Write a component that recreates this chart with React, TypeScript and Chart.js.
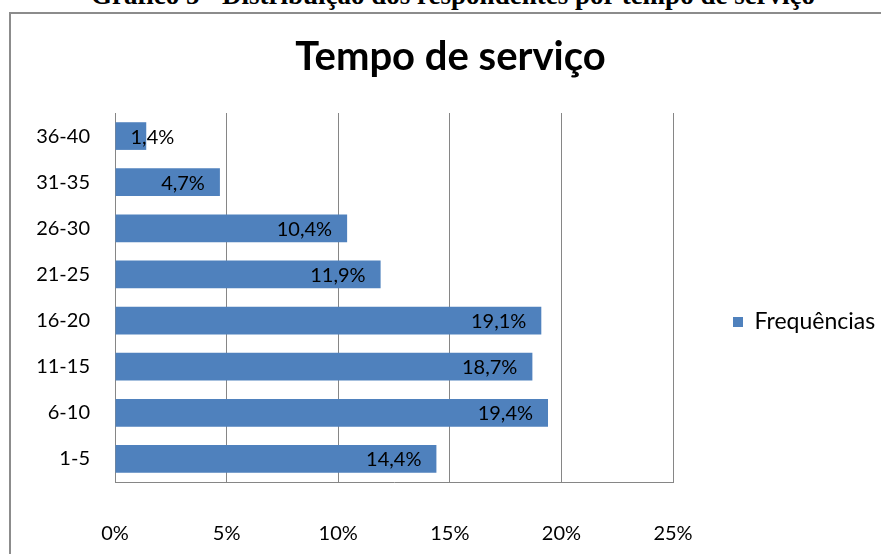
import React, { useEffect, useRef } from "react";
import { Chart, registerables } from "chart.js";

Chart.register(...registerables);

const CAPTION = "Gráfico 5 - Distribuição dos respondentes por tempo de serviço";
const TITLE = "Tempo de serviço";
const SERIES_NAME = "Frequências";
const CATEGORIES = ["36-40", "31-35", "26-30", "21-25", "16-20", "11-15", "6-10", "1-5"];
const VALUES = [1.4, 4.7, 10.4, 11.9, 19.1, 18.7, 19.4, 14.4];
const X_MIN = 0;
const X_MAX = 25;
const X_STEP = 5;

const FONT = "Lato, 'Open Sans', sans-serif";
const BAR_COLOR = "#4F81BD";
const GRID_COLOR = "#868686";

const fmt = (v: number) => v.toFixed(1).replace(".", ",") + "%";

export default function App() {
  const ref = useRef<HTMLCanvasElement | null>(null);

  useEffect(() => {
    const canvas = ref.current;
    if (!canvas) return;

    const labelPlugin = {
      id: "barLabels",
      afterDatasetsDraw(chart: any) {
        const ctx = chart.ctx;
        const meta = chart.getDatasetMeta(0);
        ctx.save();
        ctx.font = `20px ${FONT}`;
        ctx.fillStyle = "#000";
        ctx.textBaseline = "middle";
        ctx.textAlign = "left";
        meta.data.forEach((bar: any, i: number) => {
          const text = fmt(VALUES[i]);
          const tw = ctx.measureText(text).width;
          const { x, base, y } = bar.getProps(["x", "base", "y"], true);
          const right = Math.max(x - 15, base + 15 + tw);
          ctx.fillText(text, right - tw, y + 1);
        });
        ctx.restore();
      },
    };

    const legendPlugin = {
      id: "legendTweak",
      beforeLayout(chart: any) {
        const lg = chart.legend;
        if (lg && !lg.__patched) {
          const orig = lg.fit;
          lg.fit = function (this: any) {
            orig.call(this);
            this.width = 881 - 4 - 673;
          };
          lg.__patched = true;
        }
      },
      afterLayout(chart: any) {
        const lg = chart.legend;
        if (lg) {
          lg.top += 45;
          lg.bottom += 45;
        }
      },
    };

    const chart = new Chart(canvas, {
      type: "bar",
      data: {
        labels: CATEGORIES,
        datasets: [
          {
            label: SERIES_NAME,
            data: VALUES,
            backgroundColor: BAR_COLOR,
            borderWidth: 0,
            categoryPercentage: 1,
            barPercentage: 0.6,
          },
        ],
      },
      options: {
        indexAxis: "y",
        responsive: false,
        animation: false,
        layout: { padding: { left: 24, right: 4, top: 0, bottom: 0 } },
        plugins: {
          tooltip: { enabled: false },
          title: {
            display: true,
            text: TITLE,
            color: "#000",
            font: { family: FONT, size: 40, weight: "bold", lineHeight: 1.2 },
            padding: { top: 33.2, bottom: 31.8 },
          },
          legend: {
            display: true,
            position: "right",
            align: "center",
            labels: {
              boxWidth: 10,
              boxHeight: 10,
              padding: 60,
              color: "#000",
              font: { family: FONT, size: 23 },
            },
          },
        },
        scales: {
          x: {
            type: "linear",
            position: "bottom",
            min: X_MIN,
            max: X_MAX,
            ticks: {
              stepSize: X_STEP,
              padding: 40,
              color: "#000",
              font: { family: FONT, size: 20 },
              callback: (v: any) => `${v}%`,
            },
            grid: { color: GRID_COLOR, lineWidth: 1, drawTicks: false },
            border: { display: true, color: GRID_COLOR, width: 1 },
            afterFit: (scale: any) => {
              scale.height = 72;
            },
          },
          y: {
            type: "category",
            ticks: {
              padding: 25,
              color: "#000",
              font: { family: FONT, size: 20 },
            },
            grid: { display: false, drawTicks: false },
            border: { display: true, color: GRID_COLOR, width: 1 },
            afterFit: (scale: any) => {
              scale.width = 91;
            },
          },
        },
      },
      plugins: [labelPlugin, legendPlugin],
    });

    return () => chart.destroy();
  }, []);

  return (
    <div
      style={{
        position: "fixed",
        left: 0,
        top: 0,
        width: 881,
        height: 554,
        overflow: "hidden",
        background: "#fff",
      }}
    >
      <div
        style={{
          position: "absolute",
          left: 0,
          top: -18,
          width: 906,
          textAlign: "center",
          fontFamily: "'Liberation Serif', 'Times New Roman', serif",
          fontWeight: "bold",
          fontSize: 27,
          lineHeight: 1,
          whiteSpace: "nowrap",
          color: "#000",
        }}
      >
        {CAPTION}
      </div>
      <div
        style={{
          position: "absolute",
          left: 9,
          top: 12,
          width: 1000,
          height: 1000,
          borderLeft: "2px solid #8c8c8c",
          borderTop: "2px solid #8c8c8c",
          boxSizing: "border-box",
        }}
      />
      <canvas
        ref={ref}
        width={881}
        height={554}
        style={{ position: "absolute", left: 0, top: 0, width: 881, height: 554 }}
      />
    </div>
  );
}
